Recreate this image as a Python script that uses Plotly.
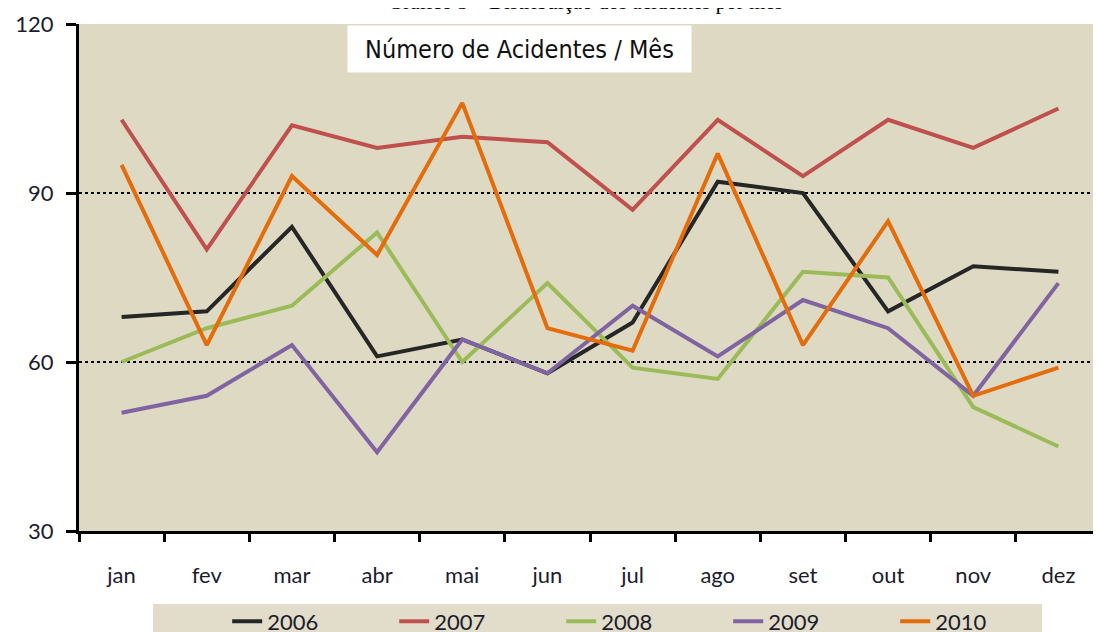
import plotly.graph_objects as go

months = ["jan", "fev", "mar", "abr", "mai", "jun", "jul", "ago", "set", "out", "nov", "dez"]
acid_2006 = [68, 69, 84, 61, 64, 58, 67, 92, 90, 69, 77, 76]
acid_2007 = [103, 80, 102, 98, 100, 99, 87, 103, 93, 103, 98, 105]
acid_2008 = [60, 66, 70, 83, 60, 74, 59, 57, 76, 75, 52, 45]
acid_2009 = [51, 54, 63, 44, 64, 58, 70, 61, 71, 66, 54, 74]
acid_2010 = [95, 63, 93, 79, 106, 66, 62, 97, 63, 85, 54, 59]

series = [
    ("2006", acid_2006, "#262626"),
    ("2007", acid_2007, "#c0504d"),
    ("2008", acid_2008, "#9bbb59"),
    ("2009", acid_2009, "#8064a2"),
    ("2010", acid_2010, "#e46c0a"),
]

TICK_FONT = dict(family="Lato, Open Sans, sans-serif", size=22, color="#1c1c2c")

# the page body adds an 8px offset, so the figure is 8px smaller than the window
fig = go.Figure()
for name, vals, color in series:
    fig.add_trace(go.Scatter(
        x=months, y=vals, name=name, mode="lines",
        line=dict(color=color, width=4),
    ))

fig.update_layout(
    width=1093, height=624,
    margin=dict(l=71, r=0, t=16, b=101, autoexpand=False),
    paper_bgcolor="white",
    plot_bgcolor="#ddd9c3",
    showlegend=True,
    legend=dict(
        orientation="h", x=0.145, xanchor="left", y=-0.137, yanchor="top",
        bgcolor="rgba(0,0,0,0)", font=TICK_FONT,
        entrywidth=122, entrywidthmode="pixels",
        traceorder="normal",
    ),
)

fig.update_xaxes(
    type="category", tickson="boundaries", automargin=False,
    showline=True, linecolor="black", linewidth=3,
    ticks="outside", ticklen=8, tickwidth=3, tickcolor="black",
    showgrid=False, tickfont=TICK_FONT, ticklabelstandoff=23,
    range=[-0.5, 11.5],
)
fig.update_yaxes(
    range=[30, 120], tickvals=[30, 60, 90, 120], automargin=False,
    showline=True, linecolor="black", linewidth=3,
    ticks="outside", ticklen=10, tickwidth=3, tickcolor="black",
    showgrid=True, gridcolor="black", gridwidth=1.5, griddash="dot",
    zeroline=False, tickfont=TICK_FONT, ticklabelstandoff=8,
)

# legend background strip
fig.add_shape(
    type="rect", xref="paper", yref="paper",
    x0=(153 - 79) / 1022, x1=(1042 - 79) / 1022,
    y0=-0.25, y1=-(604 - 531) / 507,
    fillcolor="#e1ddca", line=dict(width=0), layer="below",
)

# inner title box
fig.add_annotation(
    xref="paper", yref="paper", x=(519.5 - 79) / 1022, y=(531 - 49) / 507,
    xanchor="center", yanchor="middle",
    text="Número de Acidentes / Mês", showarrow=False,
    width=341, height=44, bgcolor="white",
    font=dict(family="DejaVu Sans Condensed, Liberation Sans Narrow, sans-serif", size=25, color="#111111"),
)

# page caption, clipped at the top edge as in the source
fig.add_annotation(
    xref="paper", yref="paper", x=(585 - 79) / 1022, y=1, yanchor="bottom", yshift=8,
    text="Gráfico 3 – Distribuição dos acidentes por mês", showarrow=False,
    font=dict(family="Liberation Serif, DejaVu Serif, serif", size=21, color="black"),
)

fig.write_html("out.html")
